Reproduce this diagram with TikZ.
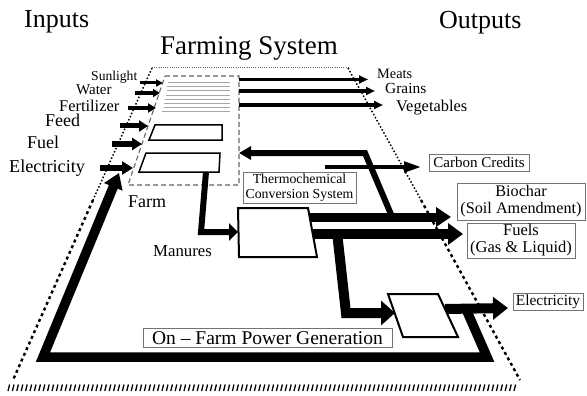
\documentclass[tikz,border=0pt]{standalone}
\usepackage{fontspec}
\setmainfont{Liberation Serif}
\usetikzlibrary{arrows.meta}
\newcommand\fsz[2]{\fontsize{#1}{#2}\selectfont}
\begin{document}
\begin{tikzpicture}[x=1pt,y=-1pt,
  lbl/.style={inner sep=0pt, anchor=base west},
  gbox/.style={draw=black!55, line width=0.8pt, fill=white, inner sep=0pt, align=center},
  inarr/.style n args={3}{line width=#1, -{Triangle[length=#2,width=#3]}},
  fat/.style n args={3}{line width=#1, line join=miter, -{Triangle[length=#2,width=#3]}},
  shp/.style={draw, line width=#1, fill=white, line join=miter},
  farmdash/.style={draw=black!60, line width=1.1pt, dash pattern=on 5pt off 3pt},
  graylin/.style={draw=black!35, line width=0.8pt},
  topdot/.style={draw=black!60, line width=1pt, dash pattern=on 1pt off 1.2pt},
  updot/.style={line width=1.5pt, dash pattern=on 1.5pt off 2pt},
  lowdot/.style={line width=2.4pt, dash pattern=on 3pt off 3.2pt}
]
\useasboundingbox (0,0) rectangle (587,396);

% outer dotted trapezoid
\coordinate (tl) at (152,68);
\coordinate (tr) at (348,68);
\coordinate (ml) at (93,200);
\coordinate (mr) at (421,200);
\coordinate (bl) at (13,380);
\coordinate (br) at (520,380);
\draw[topdot] (tl) -- (tr);
\draw[updot] (tl) -- (ml);
\draw[lowdot] (ml) -- (bl);
\draw[updot] (tr) -- (mr);
\draw[lowdot] (mr) -- (br);
\foreach \x in {8,12.4,...,518} \draw[line width=1.3pt] (\x,391) -- ++(1.6,-6.5);

% titles
\node[lbl, font=\fsz{26}{28}] (inputs) at (24,28) {Inputs};
\node[lbl, font=\fsz{26}{28}] (outputs) at (439,29) {Outputs};
\node[lbl, font=\fsz{27}{29}] (fsys) at (160,55) {Farming System};

% farm dashed region
\coordinate (f1) at (165,76);
\coordinate (f2) at (239,76);
\coordinate (f3) at (239,185);
\coordinate (f4) at (128,185);
\draw[farmdash] (f1) -- (f2) -- (f3) -- (f4) -- cycle;
\foreach \y/\xa in {82.3/168,86.7/167,90.7/166.5,95/166,99/165,103.3/164,107.3/163.5,111.7/162}
  \draw[graylin] (\xa,\y) -- (230,\y);
\draw[shp=1.5pt] (155,125) -- (222,125) -- (222,140) -- (149,140) -- cycle;
\draw[shp=1.5pt] (146,153) -- (220,153) -- (219,172) -- (139,172) -- cycle;
\node[lbl, font=\fsz{18}{20}] (farm) at (128,207) {Farm};

% input labels and arrows
\node[lbl, font=\fsz{13.6}{15}] (sun) at (91,81) {Sunlight};
\node[lbl, font=\fsz{15}{16}] (water) at (76,95) {Water};
\node[lbl, font=\fsz{16.4}{18}] (fert) at (59,112) {Fertilizer};
\node[lbl, font=\fsz{18}{20}] (feed) at (45,127) {Feed};
\node[lbl, font=\fsz{18}{20}] (fuel) at (27,148) {Fuel};
\node[lbl, font=\fsz{18.2}{20}] (elec) at (9,172) {Electricity};
\coordinate (i1a) at (140,83);  \coordinate (i1b) at (163,83);
\coordinate (i2a) at (135,93);  \coordinate (i2b) at (160,93);
\coordinate (i3a) at (128,108); \coordinate (i3b) at (156,108);
\coordinate (i4a) at (120,126); \coordinate (i4b) at (148,126);
\coordinate (i5a) at (112,144); \coordinate (i5b) at (142,144);
\coordinate (i6a) at (100,168); \coordinate (i6b) at (133,168);
\draw[inarr={3pt}{7pt}{7pt}] (i1a) -- (i1b);
\draw[inarr={3.5pt}{7pt}{8pt}] (i2a) -- (i2b);
\draw[inarr={4pt}{8pt}{9pt}] (i3a) -- (i3b);
\draw[inarr={5pt}{9pt}{11pt}] (i4a) -- (i4b);
\draw[inarr={5.5pt}{10pt}{12pt}] (i5a) -- (i5b);
\draw[inarr={6.5pt}{11pt}{13pt}] (i6a) -- (i6b);

% food outputs
\node[lbl, font=\fsz{14.3}{16}] (meats) at (377,78) {Meats};
\node[lbl, font=\fsz{15.4}{17}] (grains) at (385,94) {Grains};
\node[lbl, font=\fsz{16.4}{18}] (veg) at (396,112) {Vegetables};
\coordinate (o1a) at (239,79.5); \coordinate (o1b) at (368,79.5);
\coordinate (o2a) at (239,91);   \coordinate (o2b) at (375,91);
\coordinate (o3a) at (239,105);  \coordinate (o3b) at (383,105);
\draw[inarr={3.5pt}{9pt}{8pt}] (o1a) -- (o1b);
\draw[inarr={3.5pt}{9pt}{8pt}] (o2a) -- (o2b);
\draw[inarr={3.5pt}{9pt}{8pt}] (o3a) -- (o3b);

% thermochemical conversion system
\coordinate (t1) at (238,208);
\coordinate (t2) at (308,208);
\coordinate (t3) at (317,257);
\coordinate (t4) at (239,257);
\node[gbox, font=\fsz{13.8}{15}, minimum width=113pt, minimum height=31pt] (tcsl) at (299.5,187.5) {Thermochemical\\Conversion System};
\node[lbl, font=\fsz{16.8}{18}] (manures) at (153,256) {Manures};

% manure arrow
\coordinate (m1) at (206,172);
\coordinate (m2) at (201,232);
\coordinate (m3) at (238,232);
\draw[fat={6pt}{9pt}{17pt}] (m1) -- (m2) -- (m3);

% biochar, fuels
\coordinate (b1) at (308,217); \coordinate (b2) at (451,217);
\coordinate (u1) at (311,234); \coordinate (u2) at (463,234);
\draw[fat={9pt}{15pt}{19pt}] (b1) -- (b2);
\draw[fat={10.5pt}{15pt}{21pt}] (u1) -- (u2);

% carbon credit return and output
\coordinate (c1) at (393,219);
\coordinate (c2) at (365,153);
\coordinate (c3) at (239,153);
\draw[fat={6pt}{12pt}{13pt}] (c1) -- (c2) -- (c3);
\coordinate (cc1) at (325,167); \coordinate (cc2) at (422,167);
\draw[inarr={4.5pt}{18pt}{10pt}] (cc1) -- (cc2);

\draw[shp=2pt] (t1) -- (t2) -- (t3) -- (t4) -- cycle;

% power generation
\coordinate (p1) at (388,294);
\coordinate (p2) at (438,294);
\coordinate (p3) at (458,337);
\coordinate (p4) at (403,337);
\coordinate (d1) at (337,232);
\coordinate (d2) at (346,313);
\coordinate (d3) at (395,313);
\draw[fat={10pt}{14pt}{24pt}] (d1) -- (d2) -- (d3);
\coordinate (e1) at (445,309); \coordinate (e2) at (508,308);
\coordinate (l1) at (466,309);
\coordinate (l2) at (487,357);
\coordinate (l3) at (43,357);
\coordinate (l4) at (119,173);
\draw[fat={9.5pt}{15pt}{19pt}] (l1) -- (l2) -- (l3) -- (l4);
\draw[fat={10pt}{15pt}{22pt}] (e1) -- (e2);
\draw[shp=2pt] (p1) -- (p2) -- (p3) -- (p4) -- cycle;

% output boxes
\node[gbox, font=\fsz{15}{16}, minimum width=100pt, minimum height=17pt] (carbon) at (479,162.5) {Carbon Credits};
\node[gbox, font=\fsz{16.2}{17}, minimum width=128pt, minimum height=37pt] (biochar) at (521,201.5) {Biochar\\(Soil Amendment)};
\node[gbox, font=\fsz{16.5}{17}, minimum width=108pt, minimum height=35pt] (fuels) at (521,240.5) {Fuels\\(Gas \& Liquid)};
\node[gbox, font=\fsz{15.4}{16}, minimum width=70pt, minimum height=17pt] (elecout) at (548,301.5) {Electricity};
\node[gbox, font=\fsz{19.5}{20}, minimum width=249pt, minimum height=18.5pt] (power) at (267.5,338) {On -- Farm Power Generation};
\end{tikzpicture}
\end{document}
